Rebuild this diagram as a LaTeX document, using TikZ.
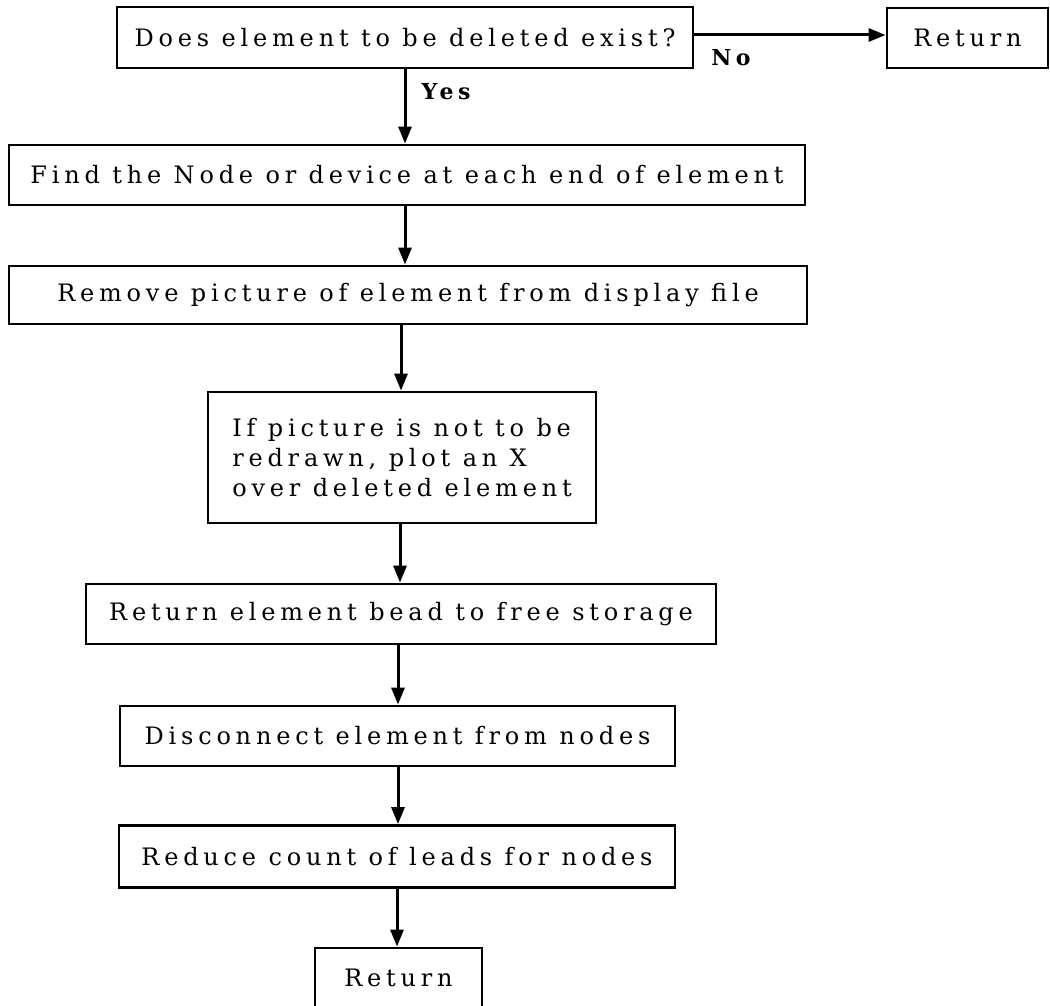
\documentclass[tikz,border=0pt]{standalone}
\usepackage{fontspec}
\setmainfont{DejaVu Serif}[LetterSpace=20]
\usetikzlibrary{arrows.meta}
\tikzset{
  box/.style={draw, line width=2.8pt, inner sep=0pt, align=center,
              font=\fontsize{24}{30}\selectfont},
  conn/.style={line width=3pt, -{Triangle[length=17pt,width=13pt]}},
  lbl/.style={font=\bfseries\fontsize{22}{26}\selectfont}
}
\begin{document}
\begin{tikzpicture}[x=1pt,y=-1pt]
\useasboundingbox (0,0) rectangle (1050,1006);
\node[box, minimum width=576pt, minimum height=61pt] (q) at (405,37.5) {Does element to be deleted exist?};
\node[box, minimum width=161pt, minimum height=60pt] (r1) at (967.5,38) {Return};
\node[box, minimum width=796pt, minimum height=60pt] (find) at (407,175) {Find the Node or device at each end of element};
\node[box, minimum width=798pt, minimum height=58pt] (remove) at (408,295) {Remove picture of element from display file};
\node[box, align=left, minimum width=388pt, minimum height=131pt] (plot) at (402,457.5) {If picture is not to be\\redrawn, plot an X\\over deleted element};
\node[box, minimum width=630pt, minimum height=60pt] (bead) at (401,614) {Return element bead to free storage};
\node[box, minimum width=555pt, minimum height=60pt] (disc) at (397.5,736) {Disconnect element from nodes};
\node[box, minimum width=556pt, minimum height=62pt] (reduce) at (397,856.5) {Reduce count of leads for nodes};
\node[box, minimum width=167pt, minimum height=60pt] (r2) at (398.5,978) {Return};
\node[lbl] (yes) at (446,92) {Yes};
\node[lbl] (no) at (731,58) {No};
\draw[conn] (q.east |- 0,35) -- (r1.west |- 0,35);
\draw[conn] (q.south -| 405,0) -- (find.north -| 405,0);
\draw[conn] (find.south -| 405,0) -- (remove.north -| 405,0);
\draw[conn] (remove.south -| 401,0) -- (plot.north -| 401,0);
\draw[conn] (plot.south -| 400,0) -- (bead.north -| 400,0);
\draw[conn] (bead.south -| 398,0) -- (disc.north -| 398,0);
\draw[conn] (disc.south -| 398,0) -- (reduce.north -| 398,0);
\draw[conn] (reduce.south -| 397,0) -- (r2.north -| 397,0);
\end{tikzpicture}
\end{document}
